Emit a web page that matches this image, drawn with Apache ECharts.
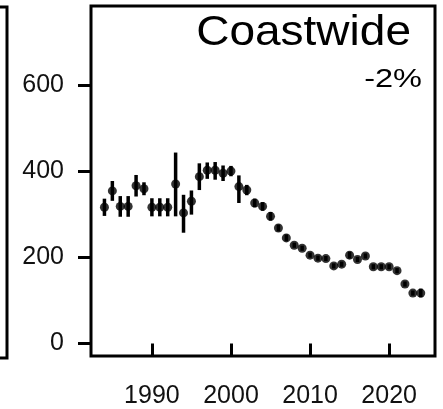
<!DOCTYPE html>
<html>
<head>
<meta charset="utf-8">
<script src="https://cdn.jsdelivr.net/npm/echarts@6/dist/echarts.min.js"></script>
<style>
html,body{margin:0;padding:0;background:#fff;}
#c{width:443px;height:409px;}
</style>
</head>
<body>
<div id="c"></div>
<script>
// Data
var years = [1984,1985,1986,1987,1988,1989,1990,1991,1992,1993,1994,1995,1996,1997,1998,1999,2000,2001,2002,2003,2004,2005,2006,2007,2008,2009,2010,2011,2012,2013,2014,2015,2016,2017,2018,2019,2020,2021,2022,2023,2024];
var values = [316,354,318,318,366,359,316,316,316,370,303,330,387,402,402,395,400,364,356,326,318,295,268,245,228,221,205,198,197,180,184,205,195,203,178,178,178,169,138,117,117];
var lower  = [296,331,294,294,341,344,295,295,295,295,257,299,356,382,380,377,388,326,344,316,308,285,260,237,222,215,199,192,191,174,178,197,189,197,172,172,172,163,132,111,107];
var upper  = [336,377,342,342,391,374,337,337,337,443,345,355,418,420,421,413,412,390,368,336,328,305,276,253,234,227,211,204,203,186,190,213,201,209,184,184,184,175,144,123,127];
var xTicks = [1990,2000,2010,2020];
var yTicks = [0,200,400,600];
var titleText = "Coastwide";
var changeText = "-2%";

var chart = echarts.init(document.getElementById('c'), null, {renderer:'canvas'});
var pts = years.map(function(y,i){return [y, values[i]];});
var bars = years.map(function(y,i){return [y, lower[i], upper[i]];});
var FONT = 'Arial, "Liberation Sans", sans-serif';

chart.setOption({
  animation:false,
  backgroundColor:'#fff',
  grid:{left:91, top:6, right:8, bottom:50, show:true, borderColor:'#000', borderWidth:3, backgroundColor:'transparent'},
  xAxis:{
    type:'value', min:1982.3, max:2025.8,
    axisLine:{show:false},
    splitLine:{show:false},
    axisTick:{show:true, length:13, lineStyle:{color:'#000', width:3}, customValues:xTicks},
    axisLabel:{show:true, customValues:xTicks, margin:28, fontSize:25, color:'#111', fontFamily:FONT,
      formatter:function(v){return String(v);}}
  },
  yAxis:{
    type:'value', min:-29, max:783,
    axisLine:{show:false},
    splitLine:{show:false},
    axisTick:{show:true, length:13, lineStyle:{color:'#000', width:3}, customValues:yTicks},
    axisLabel:{show:true, customValues:yTicks, margin:27, fontSize:25, color:'#111', fontFamily:FONT,
      formatter:function(v){return String(v);}}
  },
  series:[
    {
      type:'custom',
      data:bars,
      renderItem:function(params, api){
        var x = api.value(0);
        var p1 = api.coord([x, api.value(1)]);
        var p2 = api.coord([x, api.value(2)]);
        return {type:'line', shape:{x1:p1[0], y1:p1[1], x2:p2[0], y2:p2[1]}, style:{stroke:'#000', lineWidth:3.5}};
      },
      z:2
    },
    {
      type:'scatter',
      data:pts,
      symbol:'circle',
      symbolSize:9,
      itemStyle:{color:'#000'},
      z:3
    }
  ],
  graphic:[
    {type:'polyline', shape:{points:[[0,7],[7,7],[7,358],[0,358]]}, style:{stroke:'#000', lineWidth:3, fill:null}},
    {type:'text', x:411, y:33, scaleX:1.07, style:{x:0, y:0, text:titleText, font:'43px '+FONT, fill:'#000', align:'right', verticalAlign:'middle'}},
    {type:'text', x:422, y:80, scaleX:1.25, style:{x:0, y:0, text:changeText, font:'26px '+FONT, fill:'#000', align:'right', verticalAlign:'middle'}}
  ]
});
</script>
</body>
</html>
